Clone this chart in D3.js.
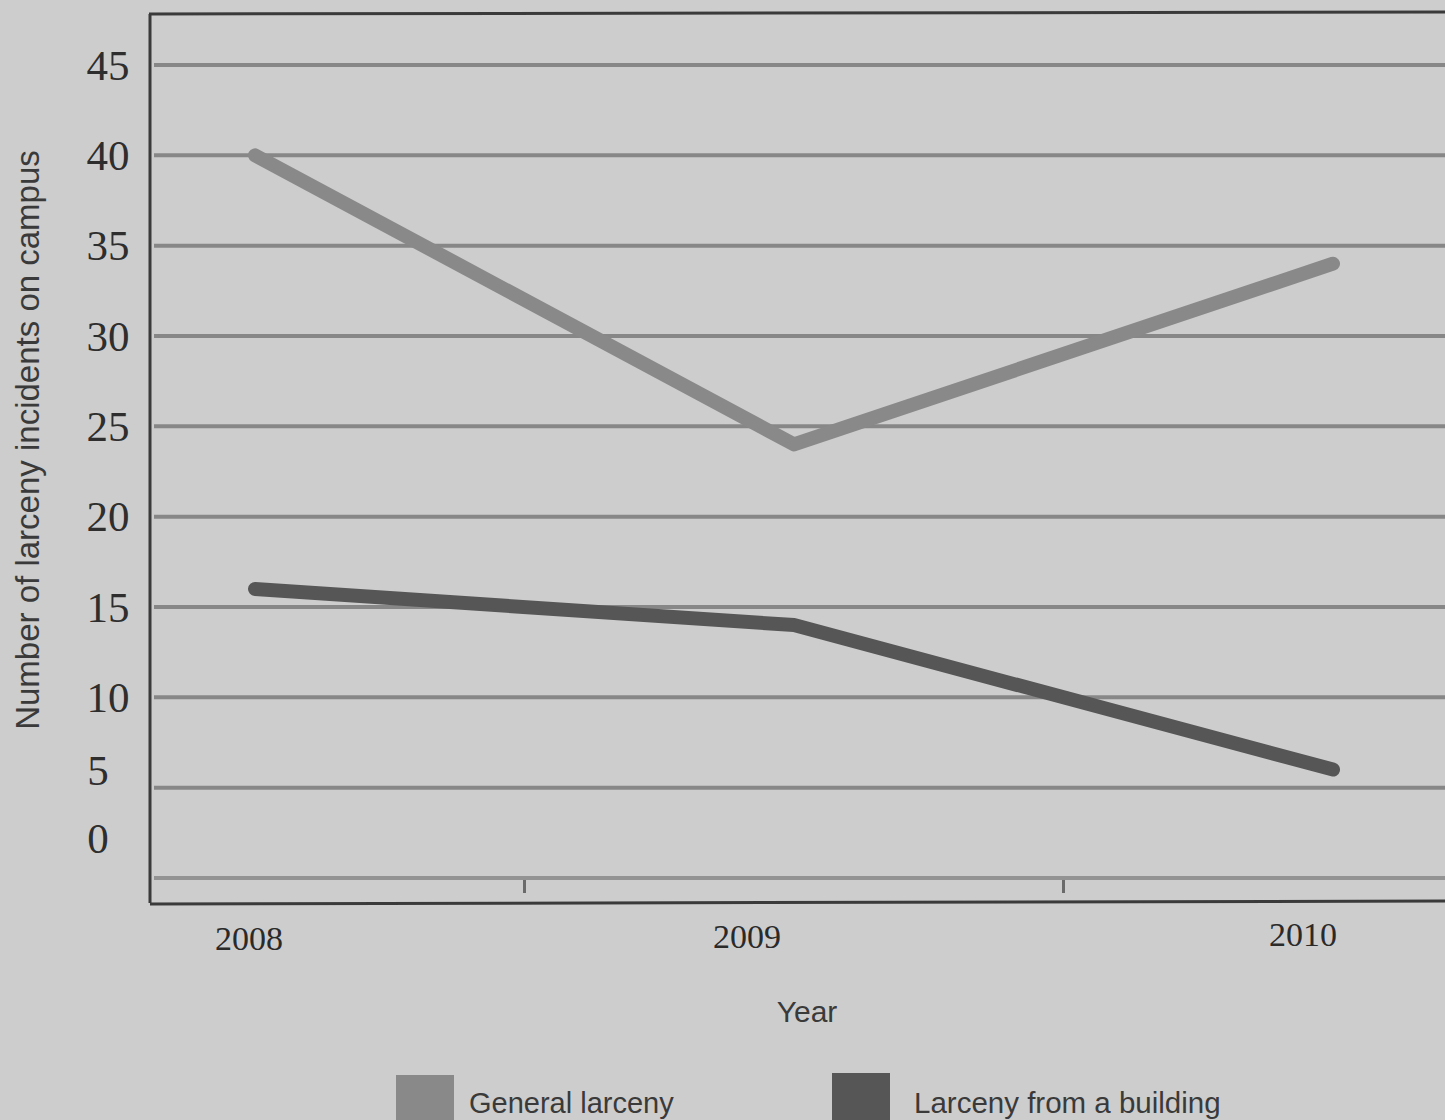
<!DOCTYPE html>
<html>
<head>
<meta charset="utf-8">
<script src="https://cdn.jsdelivr.net/npm/d3@7"></script>
<style>
  html, body { margin: 0; padding: 0; background: #cdcdcd; }
  svg { display: block; }
</style>
</head>
<body>
<svg id="chart" width="1445" height="1120"></svg>
<script>
// Campus larceny incidents by year
const years = [2008, 2009, 2010];
const generalLarceny = [40, 24, 34];
const buildingLarceny = [16, 14, 6];
const yTicks = [0, 5, 10, 15, 20, 25, 30, 35, 40, 45];
const seriesNames = ["General larceny", "Larceny from a building"];
const seriesColors = ["#898989", "#565656"];

// printed label nudges (the low tick labels sit above their rules)
const yLabelNudge = { 5: [-10, -17], 0: [-10, -40] };
const xLabelNudge = { 2008: -6, 2009: -47, 2010: -30 };

const svg = d3.select("#chart");
const W = 1445, H = 1120;

svg.append("rect").attr("width", W).attr("height", H).attr("fill", "#cdcdcd");

const x = d3.scaleLinear().domain([2008, 2010]).range([255, 1333]);
const y = d3.scaleLinear().domain([0, 45]).range([878, 65]);

const frameLeft = 150, frameTop = 14, frameBottom = 903;

// horizontal rules
svg.append("g").selectAll("line").data(yTicks).join("line")
  .attr("x1", frameLeft + 4).attr("x2", W)
  .attr("y1", d => y(d)).attr("y2", d => y(d))
  .attr("stroke", d => d === 0 ? "#939393" : "#878787")
  .attr("stroke-width", 4);

// frame: left, top, bottom
const frame = svg.append("g").attr("stroke", "#3a3a3a").attr("stroke-width", 3).attr("fill", "none");
frame.append("line").attr("x1", frameLeft).attr("x2", frameLeft).attr("y1", frameTop).attr("y2", frameBottom);
frame.append("line").attr("x1", frameLeft - 1).attr("x2", W).attr("y1", frameTop).attr("y2", frameTop - 2);
frame.append("line").attr("x1", frameLeft).attr("x2", W).attr("y1", frameBottom + 1).attr("y2", frameBottom - 2);

// small ticks between years
svg.append("g").selectAll("line").data([2008.5, 2009.5]).join("line")
  .attr("x1", d => x(d)).attr("x2", d => x(d))
  .attr("y1", y(0) + 2).attr("y2", y(0) + 15)
  .attr("stroke", "#6a6a6a").attr("stroke-width", 3);

// y tick labels
svg.append("g").selectAll("text").data(yTicks).join("text")
  .attr("x", d => 108 + (yLabelNudge[d] ? yLabelNudge[d][0] : 0))
  .attr("y", d => y(d) + (yLabelNudge[d] ? yLabelNudge[d][1] : 0))
  .attr("text-anchor", "middle")
  .attr("dominant-baseline", "central")
  .attr("font-family", "'Liberation Serif', 'DejaVu Serif', serif")
  .attr("font-size", 43)
  .attr("fill", "#2e2e2e")
  .text(d => d);

// x tick labels
svg.append("g").selectAll("text").data(years).join("text")
  .attr("x", d => x(d) + xLabelNudge[d])
  .attr("y", (d, i) => 950 - i * 2)
  .attr("text-anchor", "middle")
  .attr("font-family", "'Liberation Serif', 'DejaVu Serif', serif")
  .attr("font-size", 34)
  .attr("fill", "#2a2a2a")
  .text(d => d);

// axis titles
svg.append("text")
  .attr("transform", "translate(39,440) rotate(-90)")
  .attr("text-anchor", "middle")
  .attr("font-family", "'Liberation Sans', Arial, sans-serif")
  .attr("font-size", 33)
  .attr("fill", "#3a3a3a")
  .text("Number of larceny incidents on campus");

svg.append("text")
  .attr("x", 807).attr("y", 1022)
  .attr("text-anchor", "middle")
  .attr("font-family", "'Liberation Sans', Arial, sans-serif")
  .attr("font-size", 30)
  .attr("fill", "#3a3a3a")
  .text("Year");

// series lines
const line = d3.line().x(d => x(d.year)).y(d => y(d.value));
const series = [generalLarceny, buildingLarceny].map((vals, i) => ({
  name: seriesNames[i],
  color: seriesColors[i],
  points: years.map((yr, j) => ({ year: yr, value: vals[j] }))
}));

svg.append("g").selectAll("path").data(series).join("path")
  .attr("d", d => line(d.points))
  .attr("fill", "none")
  .attr("stroke", d => d.color)
  .attr("stroke-width", 14)
  .attr("stroke-linecap", "round")
  .attr("stroke-linejoin", "round");

// legend
const legendX = [396, 832];
const legendTextX = [73, 82];
const lg = svg.append("g").selectAll("g").data(series).join("g")
  .attr("transform", (d, i) => `translate(${legendX[i]},${1075 - i * 2})`);
lg.append("rect").attr("width", 58).attr("height", 50).attr("fill", d => d.color);
lg.append("text")
  .attr("x", (d, i) => legendTextX[i]).attr("y", (d, i) => 38 + i * 2)
  .attr("font-family", "'Liberation Sans', Arial, sans-serif")
  .attr("font-size", (d, i) => i === 0 ? 29 : 29.5)
  .attr("fill", "#3a3a3a")
  .text(d => d.name);
</script>
</body>
</html>
